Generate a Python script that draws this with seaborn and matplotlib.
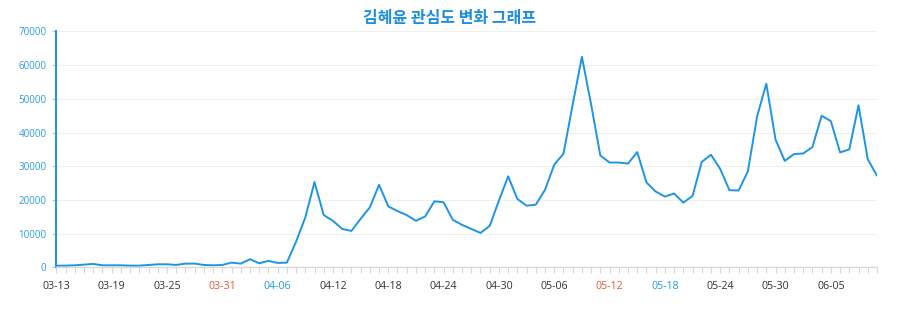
import matplotlib
matplotlib.use("Agg")
import matplotlib.pyplot as plt
import seaborn as sns
import pandas as pd

dates = [d.strftime("%m-%d") for d in pd.date_range("2019-03-13", "2019-06-10", freq="D")]
interest = [
    500, 500, 600, 800, 1000, 600, 600, 600, 500, 500,
    700, 900, 900, 700, 1100, 1100, 700, 600, 700, 1400,
    1100, 2400, 1200, 1900, 1300, 1400, 7600, 14800, 25300, 15500,
    13800, 11400, 10800, 14400, 17800, 24500, 18100, 16700, 15500, 13800,
    15100, 19600, 19300, 14100, 12600, 11400, 10200, 12300, 19800, 27000,
    20300, 18300, 18600, 23000, 30500, 33700, 48300, 62500, 48300, 33200,
    31100, 31100, 30800, 34200, 25200, 22500, 21000, 21900, 19200, 21200,
    31300, 33400, 29200, 22900, 22800, 28500, 44800, 54500, 37900, 31600,
    33600, 33800, 35700, 45000, 43400, 34100, 35000, 48100, 32100, 27200,
]
y_ticks = [0, 10000, 20000, 30000, 40000, 50000, 60000, 70000]
title = "김혜윤 관심도 변화 그래프"
label_colors = {"03-31": "#e8553b", "05-12": "#e8553b", "04-06": "#1f9be6", "05-18": "#1f9be6"}

df = pd.DataFrame({"date": dates, "value": interest})

sns.set_theme(style="white")
plt.rcParams["font.family"] = ["Open Sans", "Noto Sans CJK KR", "DejaVu Sans"]

fig = plt.figure(figsize=(9, 3.26), dpi=100)
ax = fig.add_axes([0.0626, 0.180, 0.9118, 0.7234])

line_color = "#1e95e3"
sns.lineplot(data=df, x="date", y="value", ax=ax, color=line_color, linewidth=1.4, sort=False)

ax.set_xlim(0, len(dates) - 1)
ax.set_ylim(0, 70000)
ax.set_yticks(y_ticks)
ax.set_yticklabels([str(v) for v in y_ticks], fontsize=7, color="#2b9be6")
ax.yaxis.grid(True, color="#efefef", linewidth=0.8)
ax.xaxis.grid(False)
ax.set_axisbelow(True)

# x ticks: minor at every category, labels every 6
ax.set_xticks(range(len(dates)), minor=True)
major = list(range(0, len(dates), 6))
ax.set_xticks(major)
ax.set_xticklabels([dates[i] for i in major], fontsize=7.7)
for lbl in ax.get_xticklabels():
    lbl.set_color(label_colors.get(lbl.get_text(), "#333333"))
ax.tick_params(axis="x", which="both", direction="out", length=4, width=0.8, color="#d6d6d6", pad=6, bottom=True)
ax.tick_params(axis="y", which="major", direction="out", length=3, width=0.8, color="#9ccdf0", pad=4, left=True)

for s in ["top", "right"]:
    ax.spines[s].set_visible(False)
ax.spines["left"].set_color(line_color)
ax.spines["left"].set_linewidth(1.4)
ax.spines["bottom"].set_color("#d9d9d9")
ax.spines["bottom"].set_linewidth(1.0)

ax.set_xlabel("")
ax.set_ylabel("")

fig.text(0.5, 0.945, title, ha="center", va="center", fontsize=11.5, fontweight="bold",
         color="#1a8fe0", family=["Noto Sans CJK KR", "DejaVu Sans"])

fig.savefig("out.png", dpi=100, facecolor="white")
